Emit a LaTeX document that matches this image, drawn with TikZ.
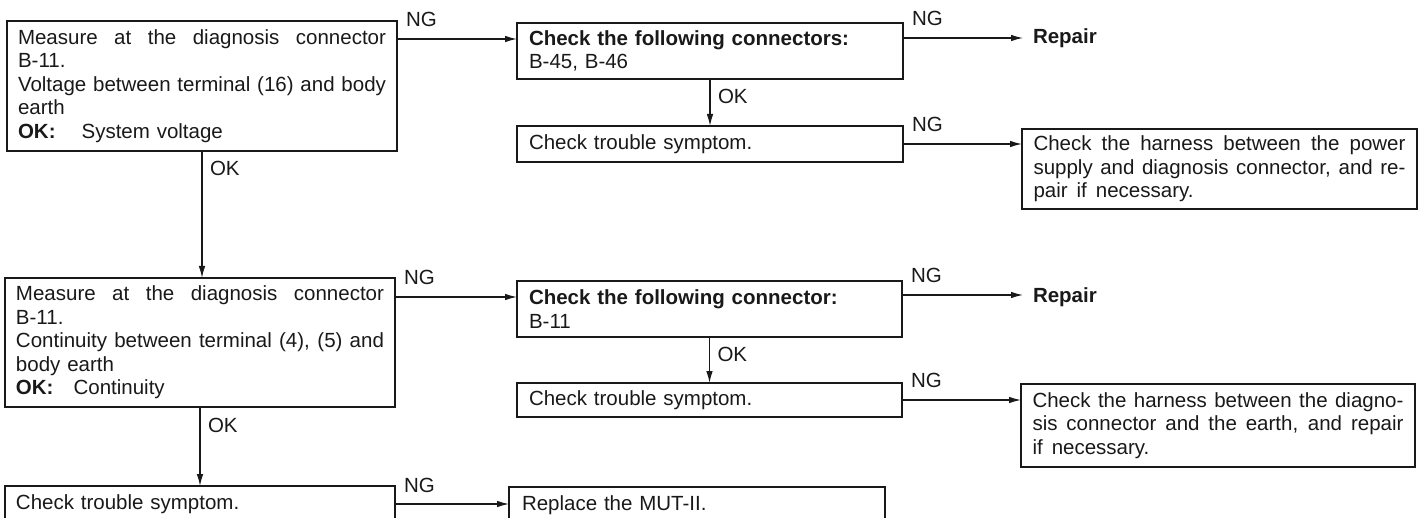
\documentclass[tikz,border=0pt]{standalone}
\usepackage{fontspec}
\setmainfont{Liberation Sans}
\usetikzlibrary{arrows.meta}
\definecolor{ink}{gray}{0.1}
\newcommand\diagfont{\fontsize{20.5}{23.5}\selectfont}
% a line spread over the given width by stretching its word spaces
\newcommand\fullline[2]{\leavevmode\hbox to #1{\spaceskip=0.278em plus 1fil minus 0.05em\relax #2}}

\begin{document}
\begin{tikzpicture}[x=1pt,y=-1pt,
  font=\diagfont, text=ink,
  every node/.style={outer sep=0pt},
  box/.style={draw=ink, line width=1.5pt, anchor=north west, inner ysep=0pt, align=left},
  abox/.style={box, inner xsep=11pt, text width=368pt},
  bbox/.style={box, inner xsep=12pt, text width=362pt},
  cbox/.style={box, inner xsep=11.5pt, text width=372pt},
  rep/.style={anchor=west, inner xsep=10pt, inner ysep=0pt, font=\diagfont\bfseries},
  link/.style={draw=ink, line width=1.2pt, -{Latex[length=12pt,width=6.5pt]}},
  ng/.style={anchor=base west, inner sep=0pt, xshift=9pt, yshift=12pt},
  ok/.style={anchor=base west, inner sep=0pt, xshift=8pt, yshift=-25pt},
]
\useasboundingbox (0,0) rectangle (1421,518);
\clip (0,0) rectangle (1421,518);

% left column: measurements
\node[abox, minimum height=130pt] (A1) at (7,21)
  {\fullline{368pt}{Measure at the diagnosis connector}\\B-11.\\
   \fullline{368pt}{Voltage between terminal (16) and body}\\earth\\
   \textbf{OK:}\hspace{26pt}System voltage};
\node[abox, minimum height=129pt] (A2) at (5,278)
  {\fullline{368pt}{Measure at the diagnosis connector}\\B-11.\\
   \fullline{368pt}{Continuity between terminal (4), (5) and}\\body earth\\
   \textbf{OK:}\hspace{20pt}Continuity};
\node[abox, minimum height=36pt] (A3) at (5,486) {Check trouble symptom.};

% middle column: connector checks
\node[bbox, minimum height=56pt] (B1) at (517,23)
  {\textbf{Check the following connectors:}\\B-45, B-46};
\node[bbox, minimum height=36pt] (B2) at (517,126) {Check trouble symptom.};
\node[bbox, minimum height=56pt, text width=361pt] (B3) at (517,281)
  {\textbf{Check the following connector:}\\B-11};
\node[bbox, minimum height=34pt, text width=361pt] (B4) at (517,383) {Check trouble symptom.};
\node[box, inner xsep=13pt, text width=350pt, minimum height=36pt] (D) at (509,487)
  {Replace the MUT-II.};

% right column: remedies
\node[rep] (R1) at (1023,38) {Repair};
\node[rep] (R2) at (1023,297) {Repair};
\node[cbox, minimum height=80pt] (C1) at (1022,129)
  {\fullline{372pt}{Check the harness between the power}\\
   \fullline{372pt}{supply and diagnosis connector, and re-}\\
   pair\hspace{9pt}if\hspace{9pt}necessary.};
\node[cbox, minimum height=83pt, text width=371pt] (C2) at (1021,384)
  {\fullline{371pt}{Check the harness between the diagno-}\\
   \fullline{371pt}{sis connector and the earth, and repair}\\
   if\hspace{9pt}necessary.};

% exits of the connectors
\coordinate (a1o) at ([yshift=-18pt]A1.north east);
\coordinate (b1o) at ([yshift=-15pt]B1.north east);
\coordinate (a2o) at ([yshift=-19pt]A2.north east);
\coordinate (b3o) at ([yshift=-14pt]B3.north east);
\coordinate (a3o) at ([yshift=-18pt]A3.north east);

% NG branches
\draw[link] (a1o) -- (a1o -| B1.west) node[ng, pos=0] {NG};
\draw[link] (b1o) -- (b1o -| R1.west) node[ng, pos=0] {NG};
\draw[link] (B2.east) -- (B2.east -| C1.west) node[ng, pos=0] {NG};
\draw[link] (a2o) -- (a2o -| B3.west) node[ng, pos=0] {NG};
\draw[link] (b3o) -- (b3o -| R2.west) node[ng, pos=0] {NG};
\draw[link] (B4.east) -- (B4.east -| C2.west) node[ng, pos=0] {NG};
\draw[link] (a3o) -- (a3o -| D.west) node[ng, pos=0] {NG};

% OK branches
\draw[link] (A1.south) -- (A1.south |- A2.north) node[ok, pos=0] {OK};
\draw[link] (A2.south) -- (A2.south |- A3.north) node[ok, pos=0] {OK};
\draw[link] (B1.south) -- (B1.south |- B2.north) node[ok, pos=0] {OK};
\draw[link] (B3.south) -- (B3.south |- B4.north) node[ok, pos=0] {OK};
\end{tikzpicture}
\end{document}
